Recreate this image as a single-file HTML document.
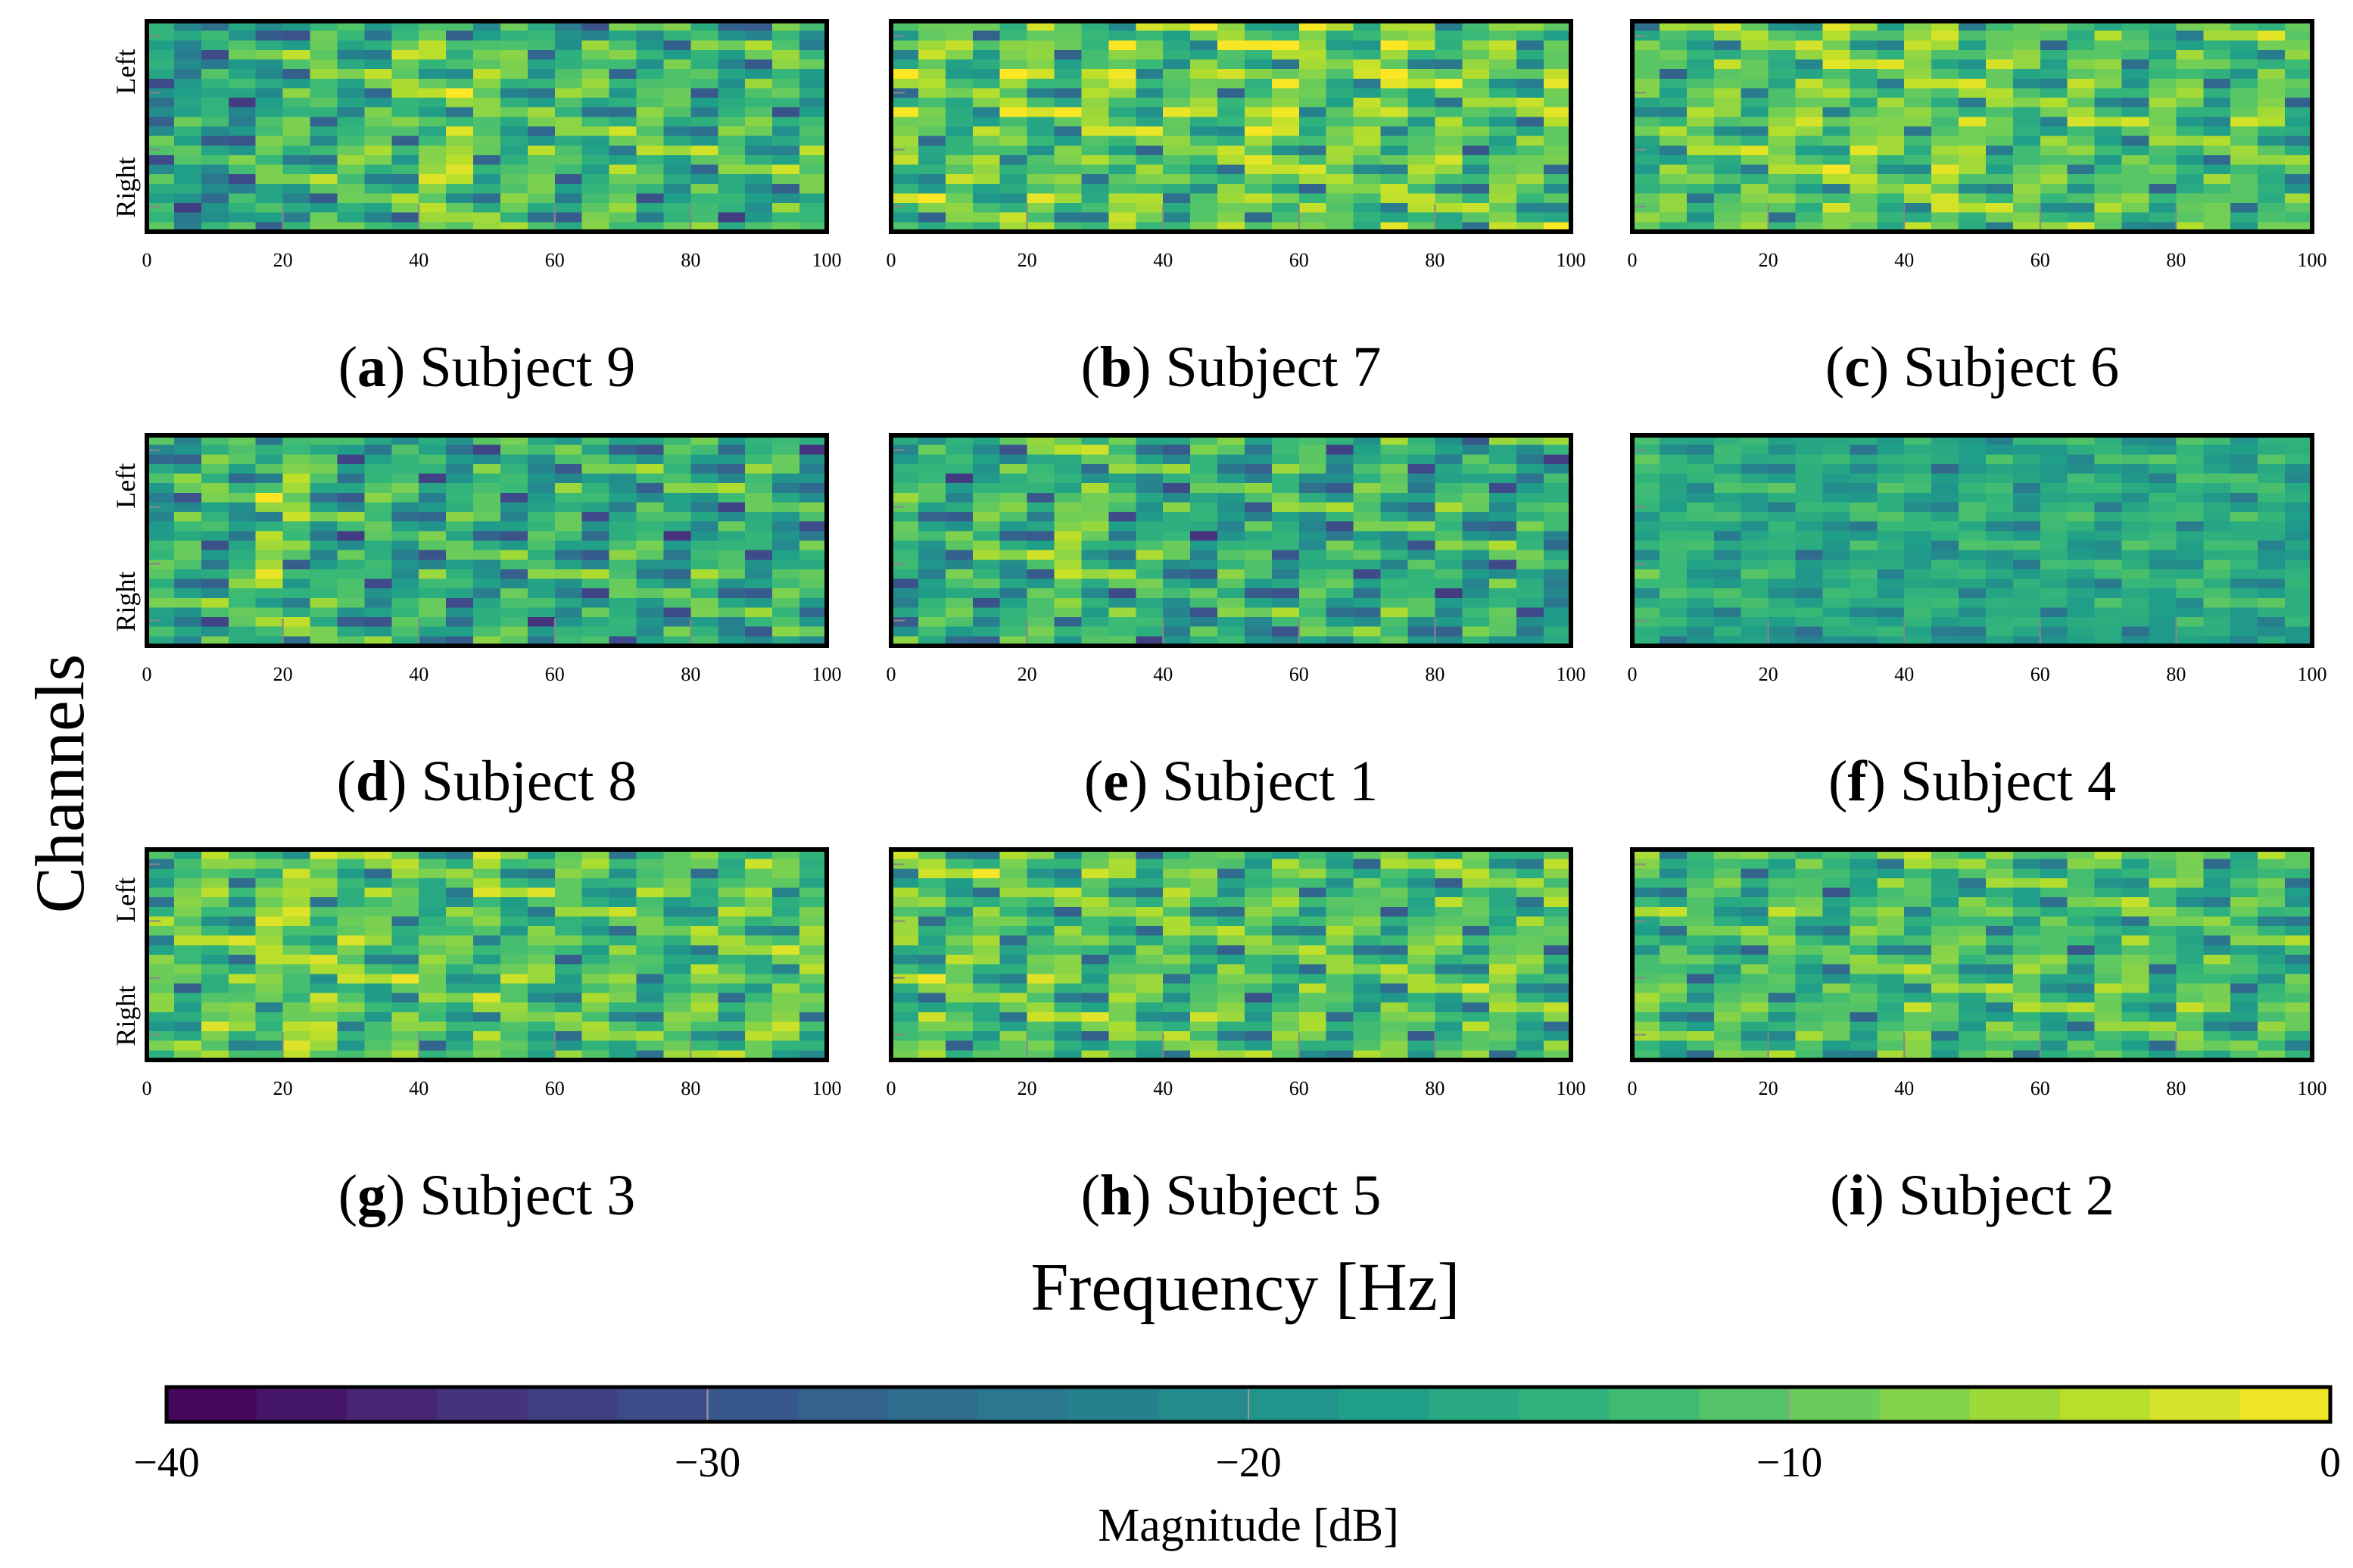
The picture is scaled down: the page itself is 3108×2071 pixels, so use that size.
<!DOCTYPE html>
<html><head><meta charset="utf-8">
<style>
html,body{margin:0;padding:0;background:#fff;}
svg{display:block;font-family:"Liberation Serif",serif;}
</style></head>
<body>
<svg id="fig" width="3108" height="2071" viewBox="0 0 3108 2071" xmlns="http://www.w3.org/2000/svg">
<rect width="3108" height="2071" fill="#fff"/>
<g id="panels"></g>
<text x="0" y="0" transform="translate(110,1035) rotate(-90)" font-size="92" text-anchor="middle">Channels</text>
<text x="1645" y="1730" font-size="90" text-anchor="middle">Frequency [Hz]</text>
<g id="cbar"></g>
<text x="1649" y="2035" font-size="62" text-anchor="middle">Magnitude [dB]</text>
</svg>
<script>
// ---- data ----
const subjectLabels = ["a","b","c","d","e","f","g","h","i"];
const subjectNames = ["Subject 9","Subject 7","Subject 6","Subject 8","Subject 1","Subject 4","Subject 3","Subject 5","Subject 2"];
const subjectMeans = [-13.5,-11,-11.5,-15,-15,-15.5,-12,-12.5,-13];
const textureAmp = [1.1,1.1,1,1.15,1.15,0.55,1,1.1,0.95];
const rowLevels = [
 [-3,-4,0,1,-1,0,1,0,-1,-2,1,0,-1,2,0,1,0,-1,-2,0,-3,2],
 [2,-1,3,0,-2,4,1,-2,0,3,-1,1,0,-2,2,-1,1,-3,2,0,-2,1],
 [0,1,-1,0,1,-2,0,1,-1,0,2,-1,0,1,-1,0,1,-2,1,0,-1,0],
 [1,-2,0,1,-1,2,0,-1,1,0,-2,1,0,-1,2,0,-1,1,0,-2,1,0],
 [2,0,-1,1,-2,0,1,2,-1,0,-2,1,2,-1,0,1,-2,0,1,-1,0,-1],
 [0,-1,1,-2,0,1,-1,0,2,-1,0,1,-2,0,1,-1,0,1,-1,0,-2,-3],
 [1,2,-1,0,2,-2,1,0,-1,2,0,-1,1,2,-2,0,1,-1,2,0,-1,1],
 [0,1,2,-1,0,2,-1,1,0,2,-1,1,0,2,1,-1,0,2,1,-1,0,1],
 [3,0,-1,1,-2,0,2,-1,0,1,-2,2,0,-1,1,0,2,-1,0,1,-1,0]
];
const colLevels = [
 [-3,-4,-4,-3,-1,0,1,0,1,2,4,5,2,1,1,0,1,2,1,0,0,-1,0,1,0],
 [1,0,-1,0,1,0,-1,1,2,0,-1,0,1,2,3,1,0,1,2,0,1,-1,0,-1,1],
 [-1,0,0,1,1,1,2,3,2,1,2,3,2,1,0,0,1,0,-1,0,0,-1,0,1,-1],
 [-1,0,0,0,6,4,0,-1,0,-1,0,-1,0,0,-1,0,-1,0,0,-1,0,-1,0,0,-1],
 [0,-1,0,1,0,1,5,3,1,0,-1,-1,0,-1,0,0,-1,0,1,-1,0,-1,0,-1,-2],
 [2,1,0,0,0,0,-1,-1,0,0,0,-1,0,0,-1,0,0,0,0,0,1,1,0,0,-1],
 [0,0,1,0,3,4,3,1,0,1,0,-1,2,0,0,-1,0,0,-1,-1,1,0,1,2,1],
 [1,1,0,1,0,1,0,0,1,0,1,0,0,-1,0,1,0,-1,0,0,0,1,1,0,0],
 [1,0,-1,0,0,1,0,-1,0,1,2,1,0,1,1,0,-1,1,2,0,1,0,-1,0,0]
];
const texture = [5,-6,2,-3,7,-1,-13,3,0,4,-4,6,-2,1,-7,3,5,-5,0,2,-3,8,-1,-6,4,-2,1,-4,6,-14,2,-9,3,0,-2,5,-11];
const xTicks = [0,20,40,60,80,100];
const cbTicks = [-40,-30,-20,-10,0];
const cbLabels = ["\u221240","\u221230","\u221220","\u221210","0"];

// ---- helpers ----
const NS="http://www.w3.org/2000/svg";
const vir=[[68,1,84],[72,40,120],[62,74,137],[49,104,142],[38,130,142],[31,158,137],[53,183,121],[109,205,89],[180,222,44],[253,231,37]];
function viridis(t){t=Math.max(0,Math.min(1,t));const p=t*(vir.length-1);const i=Math.min(vir.length-2,Math.floor(p));const f=p-i;
 const c=vir[i].map((v,k)=>Math.round(v+(vir[i+1][k]-v)*f));return `rgb(${c[0]},${c[1]},${c[2]})`;}
function el(tag,attrs,parent){const e=document.createElementNS(NS,tag);for(const k in attrs)e.setAttribute(k,attrs[k]);parent.appendChild(e);return e;}
const vmin=-40,vmax=0;
const colorOf=v=>viridis((v-vmin)/(vmax-vmin));

const panelX=[194,1177,2156], panelY=[28,575,1122], PW=898, PH=278;
const NR=22, NC=25;
const panels=document.getElementById('panels');
for(let s=0;s<9;s++){
 const px=panelX[s%3], py=panelY[Math.floor(s/3)];
 const g=el('g',{},panels);
 
 
 const xs=f=>px+f/100*PW;
 const cw=PW/NC, rh=PH/NR;
 for(let r=0;r<NR;r++)for(let c=0;c<NC;c++){
  const v=subjectMeans[s]+rowLevels[s][r]+colLevels[s][c]+textureAmp[s]*texture[(r*11+c*5+s*3)%texture.length];
  const cell=el('rect',{x:(px+c*cw).toFixed(1),y:(py+r*rh).toFixed(1),width:(cw+0.8).toFixed(1),height:(rh+0.8).toFixed(1),fill:colorOf(v),'shape-rendering':'crispEdges'},g);
  
  
 }
 xTicks.slice(1,5).forEach(t=>{el('line',{x1:xs(t),x2:xs(t),y1:py+PH-36,y2:py+PH,stroke:'#888','stroke-width':2},g);});
 [0.07,0.34,0.61,0.88].forEach(f=>{el('line',{x1:px,x2:px+18,y1:py+PH*f,y2:py+PH*f,stroke:'#888','stroke-width':2},g);});
 el('rect',{x:px,y:py,width:PW,height:PH,fill:'none',stroke:'#000','stroke-width':6},g);
 xTicks.forEach(t=>{const tx=el('text',{x:xs(t),y:py+PH+46,'font-size':26,'text-anchor':'middle'},g);tx.textContent=t;
  });
 if(s%3===0){
  const l=el('text',{transform:`translate(${px-16},${py+PH*0.24}) rotate(-90)`,'font-size':36,'text-anchor':'middle'},g);l.textContent='Left';
  
  const rt=el('text',{transform:`translate(${px-16},${py+PH*0.79}) rotate(-90)`,'font-size':36,'text-anchor':'middle'},g);rt.textContent='Right';
  
 }
 const cap=el('text',{x:px+PW/2,y:py+PH+204,'font-size':76,'text-anchor':'middle'},g);
 
 
 cap.innerHTML=`(<tspan font-weight="bold">${subjectLabels[s]}</tspan>) ${subjectNames[s]}`;
}
// colorbar
const cb=document.getElementById('cbar');
const cbx0=220,cbx1=3078,cby=1832,cbh=46,nseg=24;
const cbX=v=>cbx0+(v-vmin)/(vmax-vmin)*(cbx1-cbx0);
for(let i=0;i<nseg;i++){
 const v0=vmin+i*(vmax-vmin)/nseg, v1=vmin+(i+1)*(vmax-vmin)/nseg;
 const seg=el('rect',{x:cbX(v0),y:cby,width:cbX(v1)-cbX(v0)+0.8,height:cbh,fill:colorOf((v0+v1)/2),'shape-rendering':'crispEdges'},cb);
 
 
}
cbTicks.slice(1,4).forEach(t=>el('line',{x1:cbX(t),x2:cbX(t),y1:cby,y2:cby+cbh,stroke:'#999','stroke-width':2},cb));
el('rect',{x:cbx0,y:cby,width:cbx1-cbx0,height:cbh,fill:'none',stroke:'#000','stroke-width':5},cb);
cbTicks.forEach((t,i)=>{const tx=el('text',{x:cbX(t),y:1950,'font-size':56,'text-anchor':'middle'},cb);tx.textContent=cbLabels[i];
 });
</script>
</body></html>
